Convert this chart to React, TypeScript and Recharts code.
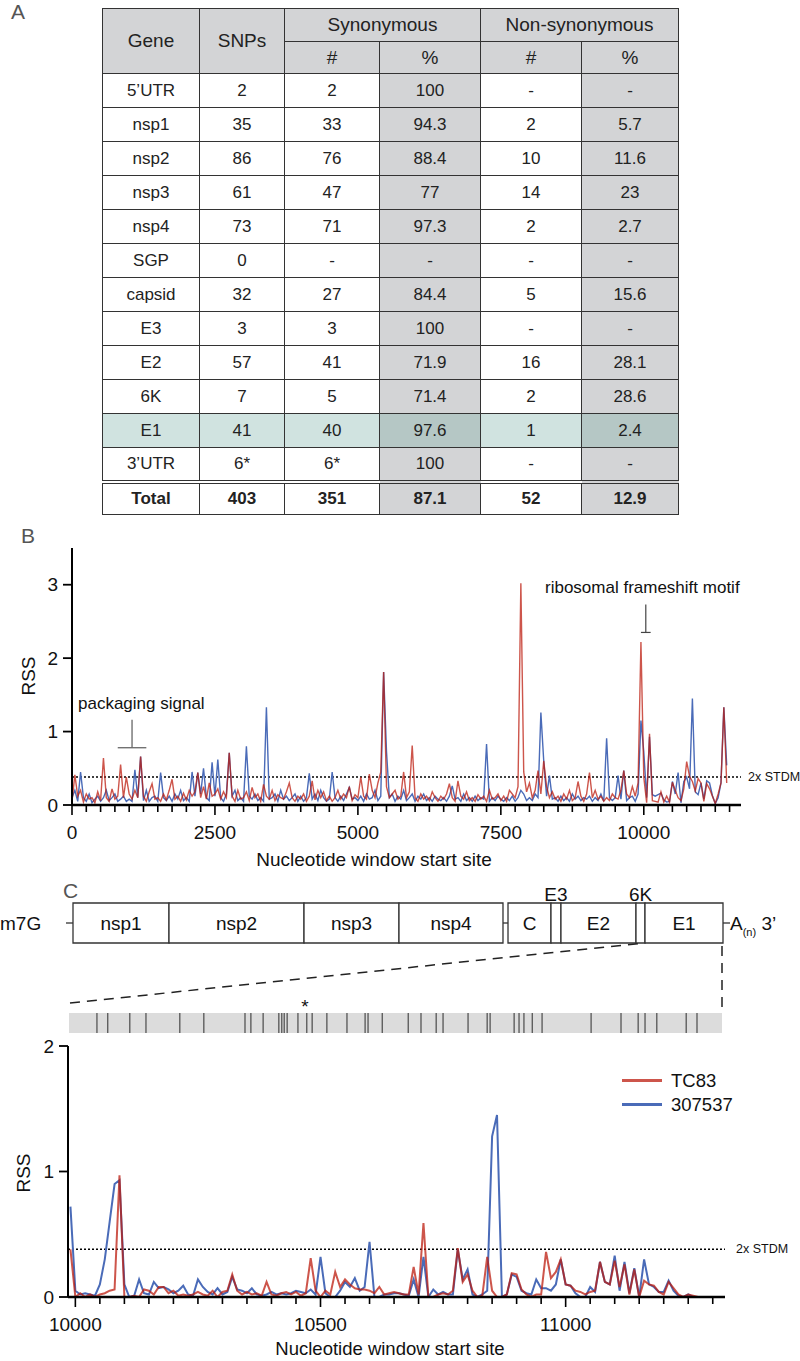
import React from 'react';
import { LineChart, Line, XAxis, YAxis, ReferenceLine, BarChart, Bar, LabelList, ScatterChart, Scatter } from 'recharts';

const FONT = '"Liberation Sans", Arial, Helvetica, sans-serif';
const RED = '#bc1c0f';
const RED_OPACITY = 0.75;
const BLUE = '#4a6bb8';
const seriesNames = ['TC83', '307537'];

// ---------- Panel A table ----------
const tableGenes = ["5’UTR", 'nsp1', 'nsp2', 'nsp3', 'nsp4', 'SGP', 'capsid', 'E3', 'E2', '6K', 'E1', "3’UTR"];
const tableSnps = ['2', '35', '86', '61', '73', '0', '32', '3', '57', '7', '41', '6*'];
const tableSynCount = ['2', '33', '76', '47', '71', '-', '27', '3', '41', '5', '40', '6*'];
const tableSynPct = ['100', '94.3', '88.4', '77', '97.3', '-', '84.4', '100', '71.9', '71.4', '97.6', '100'];
const tableNonCount = ['-', '2', '10', '14', '2', '-', '5', '-', '16', '2', '1', '-'];
const tableNonPct = ['-', '5.7', '11.6', '23', '2.7', '-', '15.6', '-', '28.1', '28.6', '2.4', '-'];
const tableTotal = ['Total', '403', '351', '87.1', '52', '12.9'];
const highlightGene = 'E1';

// ---------- Panel B (whole genome RSS) ----------
const bStep = 50;
const bTC83 = [
  0.05, 0.41, 0.12, 0.2, 0.04, 0.15, 0.08, 0.1, 0.03, 0.18,
  0.06, 0.64, 0.1, 0.05, 0.22, 0.08, 0.12, 0.55, 0.1, 0.38,
  0.15, 0.08, 0.2, 0.1, 0.66, 0.12, 0.05, 0.18, 0.29, 0.08,
  0.1, 0.05, 0.15, 0.07, 0.2, 0.35, 0.08, 0.12, 0.05, 0.16,
  0.07, 0.2, 0.12, 0.18, 0.44, 0.1, 0.25, 0.08, 0.3, 0.12,
  0.15, 0.22, 0.08, 0.18, 0.1, 0.71, 0.12, 0.05, 0.2, 0.08,
  0.1, 0.18, 0.06, 0.24, 0.1, 0.15, 0.05, 0.28, 0.12, 0.08,
  0.2, 0.06, 0.14, 0.1, 0.08, 0.18, 0.3, 0.1, 0.05, 0.12,
  0.08, 0.15, 0.05, 0.12, 0.33, 0.07, 0.2, 0.1, 0.18, 0.06,
  0.12, 0.05, 0.1, 0.2, 0.08, 0.15, 0.1, 0.25, 0.06, 0.14,
  0.1, 0.38, 0.12, 0.08, 0.42, 0.2, 0.1, 0.3, 0.45, 1.81,
  0.25, 0.1, 0.15, 0.2, 0.08, 0.12, 0.45, 0.1, 0.18, 0.81,
  0.1, 0.05, 0.15, 0.08, 0.12, 0.06, 0.18, 0.1, 0.05, 0.12,
  0.08, 0.15, 0.29, 0.1, 0.05, 0.33, 0.12, 0.08, 0.18, 0.06,
  0.1, 0.05, 0.14, 0.08, 0.12, 0.05, 0.2, 0.08, 0.1, 0.15,
  0.06, 0.12, 0.05, 0.2, 0.15, 0.1, 0.25, 3.02, 0.45, 0.18,
  0.3, 0.1, 0.2, 0.47, 0.15, 0.6, 0.25, 0.1, 0.18, 0.08,
  0.12, 0.05, 0.15, 0.08, 0.2, 0.06, 0.1, 0.32, 0.12, 0.05,
  0.15, 0.44, 0.1, 0.2, 0.08, 0.12, 0.05, 0.1, 0.06, 0.15,
  0.1, 0.08, 0.2, 0.47, 0.15, 0.1, 0.25, 0.12, 0.3, 2.22,
  0.38, 0.03, 0.97, 0.06, 0.05, 0.04, 0.18, 0.04, 0.12, 0.04,
  0.31, 0.2, 0.1, 0.06, 0.22, 0.59, 0.39, 0.32, 0.19, 0.36,
  0.3, 0.05, 0.29, 0.22, 0.12, 0.02, 0.15, 0.3, 1.33, 0.3,
];
const b307537 = [
  0.1, 0.2, 0.05, 0.45, 0.1, 0.05, 0.15, 0.03, 0.08, 0.12,
  0.05, 0.1, 0.2, 0.06, 0.1, 0.15, 0.05, 0.08, 0.12, 0.05,
  0.08, 0.05, 0.48, 0.1, 0.66, 0.06, 0.2, 0.05, 0.1, 0.12,
  0.05, 0.44, 0.1, 0.06, 0.12, 0.05, 0.15, 0.08, 0.2, 0.06,
  0.1, 0.05, 0.45, 0.12, 0.44, 0.15, 0.5, 0.1, 0.06, 0.58,
  0.12, 0.62, 0.1, 0.05, 0.15, 0.71, 0.12, 0.2, 0.06, 0.1,
  0.05, 0.8, 0.12, 0.08, 0.15, 0.06, 0.1, 0.05, 1.33, 0.08,
  0.1, 0.15, 0.05, 0.2, 0.08, 0.12, 0.06, 0.1, 0.15, 0.05,
  0.12, 0.05, 0.1, 0.43, 0.08, 0.15, 0.06, 0.2, 0.1, 0.05,
  0.08, 0.45, 0.1, 0.05, 0.12, 0.06, 0.15, 0.24, 0.08, 0.1,
  0.06, 0.12, 0.05, 0.15, 0.08, 0.1, 0.2, 0.06, 0.12, 1.81,
  0.73, 0.1, 0.15, 0.05, 0.12, 0.08, 0.2, 0.06, 0.1, 0.15,
  0.05, 0.12, 0.08, 0.15, 0.06, 0.1, 0.05, 0.12, 0.08, 0.06,
  0.1, 0.05, 0.12, 0.26, 0.08, 0.1, 0.05, 0.15, 0.06, 0.1,
  0.05, 0.12, 0.06, 0.1, 0.08, 0.83, 0.05, 0.1, 0.06, 0.12,
  0.08, 0.05, 0.1, 0.06, 0.12, 0.05, 0.1, 0.2, 0.15, 0.06,
  0.1, 0.06, 0.15, 0.1, 1.26, 0.6, 0.12, 0.4, 0.08, 0.1,
  0.05, 0.12, 0.06, 0.1, 0.05, 0.15, 0.08, 0.12, 0.06, 0.1,
  0.08, 0.12, 0.05, 0.1, 0.06, 0.15, 0.05, 0.91, 0.1, 0.06,
  0.1, 0.4, 0.08, 0.47, 0.06, 0.1, 0.12, 0.05, 0.15, 1.15,
  0.72, 0.1, 0.93, 0.14, 0.12, 0.14, 0.16, 0.07, 0.04, 0.05,
  0.32, 0.15, 0.44, 0.03, 0.32, 0.38, 0.22, 1.45, 0.18, 0.14,
  0.3, 0.08, 0.33, 0.3, 0.13, 0.02, 0.1, 0.3, 1.33, 0.54,
];
const bStdm = 0.38;
const bYTicks = [0, 1, 2, 3];
const bXTickStep = 250;
const bXTickCount = 47;
const bXLabelEvery = 2500;

// ---------- Panel C genome map ----------
const genomeSegments = ['nsp1', 'nsp2', 'nsp3', 'nsp4', 'SGP', 'C', 'E3', 'E2', '6K', 'E1'];
const genomeLengths = [1684, 2368, 1666, 1824, 88, 754, 175, 1316, 158, 1368];
const genomeLabelsAbove = ['E3', '6K'];
const genomeSpacer = 'SGP';

// SNP positions in E1 region (nt)
const snpPositions = [
  10044, 10066, 10111, 10144, 10213, 10262, 10346, 10358, 10383, 10415,
  10421, 10426, 10432, 10454, 10472, 10483, 10513, 10554, 10591, 10597,
  10626, 10679, 10705, 10736, 10750, 10801, 10840, 10846, 10895, 10905,
  10915, 10932, 10952, 11052, 11113, 11148, 11162, 11186, 11246, 11268,
];

// ---------- Panel C zoomed RSS ----------
const cStart = 9990;
const cStep = 10;
const cTC83 = [
  0.38,
  0.0, 0.03, 0.0, 0.02, 0.0, 0.02, 0.03, 0.05, 0.06, 0.97,
  0.0, 0.0, 0.01, 0.0, 0.06, 0.05, 0.02, 0.08, 0.08, 0.03,
  0.05, 0.01, 0.02, 0.01, 0.02, 0.04, 0.02, 0.01, 0.05, 0.0,
  0.04, 0.05, 0.18, 0.05, 0.02, 0.04, 0.02, 0.03, 0.01, 0.12,
  0.02, 0.01, 0.03, 0.04, 0.02, 0.04, 0.01, 0.03, 0.31, 0.05,
  0.0, 0.05, 0.02, 0.2, 0.08, 0.14, 0.1, 0.07, 0.06, 0.06,
  0.05, 0.03, 0.08, 0.02, 0.03, 0.04, 0.03, 0.02, 0.02, 0.24,
  0.02, 0.59, 0.0, 0.0, 0.02, 0.03, 0.02, 0.05, 0.39, 0.12,
  0.18, 0.05, 0.0, 0.01, 0.32, 0.05, 0.0, 0.0, 0.02, 0.19,
  0.18, 0.06, 0.02, 0.0, 0.02, 0.02, 0.36, 0.15, 0.2, 0.3,
  0.1, 0.09, 0.05, 0.04, 0.02, 0.04, 0.05, 0.28, 0.12, 0.1,
  0.29, 0.08, 0.26, 0.02, 0.22, 0.0, 0.13, 0.1, 0.09, 0.04,
  0.02, 0.12, 0.07, 0.02, 0.0, 0.02, 0.01, 0.0,
];
const c307537 = [
  0.72,
  0.05, 0.02, 0.03, 0.02, 0.01, 0.1, 0.3, 0.6, 0.9, 0.93,
  0.1, 0.0, 0.01, 0.14, 0.03, 0.02, 0.12, 0.07, 0.08, 0.06,
  0.03, 0.05, 0.09, 0.02, 0.01, 0.14, 0.08, 0.04, 0.02, 0.07,
  0.02, 0.04, 0.16, 0.06, 0.05, 0.03, 0.07, 0.02, 0.01, 0.02,
  0.04, 0.02, 0.03, 0.02, 0.03, 0.05, 0.04, 0.03, 0.06, 0.02,
  0.32, 0.03, 0.0, 0.0, 0.05, 0.12, 0.08, 0.15, 0.05, 0.08,
  0.44, 0.0, 0.0, 0.02, 0.02, 0.03, 0.03, 0.02, 0.01, 0.14,
  0.0, 0.32, 0.0, 0.06, 0.02, 0.04, 0.02, 0.02, 0.38, 0.14,
  0.22, 0.02, 0.0, 0.02, 0.05, 1.28, 1.45, 0.0, 0.02, 0.18,
  0.16, 0.05, 0.03, 0.02, 0.14, 0.07, 0.07, 0.05, 0.1, 0.3,
  0.1, 0.09, 0.03, 0.0, 0.0, 0.08, 0.04, 0.28, 0.12, 0.1,
  0.33, 0.05, 0.28, 0.03, 0.23, 0.0, 0.3, 0.1, 0.08, 0.04,
  0.04, 0.13, 0.05, 0.01, 0.0, 0.02, 0.0, 0.0,
];
const cStdm = 0.38;
const cYTicks = [0, 1, 2];
const cXTickStart = 10000;
const cXTickStep = 50;
const cXTickCount = 27;
const cXLabelEvery = 500;

// ---------- derived tables for the library ----------
const bData = bTC83.map((v, i) => ({ pos: i * bStep, tc83: v, s307537: b307537[i] }));
const cData = cTC83.map((v, i) => ({ pos: cStart + i * cStep, tc83: v, s307537: c307537[i] }));
const bTicks = Array.from({ length: bXTickCount }, (_, i) => i * bXTickStep);
const cTicks = Array.from({ length: cXTickCount }, (_, i) => cXTickStart + i * cXTickStep);
const genomeRow = [Object.assign({ row: 'genome' }, ...genomeSegments.map((s, i) => ({ [s]: genomeLengths[i] })))];
const genomeTotal = genomeLengths.reduce((a, b) => a + b, 0);
const snpData = snpPositions.map((p) => ({ pos: p, y: 0.5 }));

// ---------- helpers ----------
function Txt({ x, y, size = 19, anchor = 'start', children, style }: any) {
  const tx = anchor === 'middle' ? '-50%' : anchor === 'end' ? '-100%' : '0';
  return (
    <div
      style={{
        position: 'absolute', left: x, top: y, fontSize: size, lineHeight: 1, whiteSpace: 'nowrap',
        fontFamily: FONT, color: '#111', transform: `translate(${tx}, -50%)`, ...style,
      }}
    >
      {children}
    </div>
  );
}

function VTxt({ x, y, size = 19, children }: any) {
  return (
    <div
      style={{
        position: 'absolute', left: x, top: y, fontSize: size, lineHeight: 1, whiteSpace: 'nowrap',
        fontFamily: FONT, color: '#111', transform: 'translate(-50%, -50%) rotate(-90deg)',
      }}
    >
      {children}
    </div>
  );
}

const AxisTick = (props: any) => {
  const { x, y, payload, majorEvery, labelOffset } = props;
  const v = payload.value;
  const major = v % majorEvery === 0;
  return (
    <g>
      <line x1={x} x2={x} y1={y} y2={y + (major ? 10 : 7)} stroke="#000" strokeWidth={1.6} />
      {major && (
        <text x={x} y={y + labelOffset} textAnchor="middle" dominantBaseline="central" fill="#111" style={{ fontSize: 19, fontFamily: FONT }}>
          {v}
        </text>
      )}
    </g>
  );
};

const geneLabel = (name: string) => (p: any) => {
  const x = Number(p.x), y = Number(p.y), w = Number(p.width), h = Number(p.height);
  const above = genomeLabelsAbove.includes(name);
  return (
    <text x={x + w / 2} y={above ? y - 9 : y + h / 2} textAnchor="middle" dominantBaseline="central" fill="#111" style={{ fontSize: 19, fontFamily: FONT }}>
      {name}
    </text>
  );
};

const SnpMark = (p: any) => (
  <line x1={p.cx} x2={p.cx} y1={p.cy - 10} y2={p.cy + 10} stroke="#555" strokeWidth={1.3} />
);

const GRAY = '#d3d4d6';
const TEAL = '#d0e3e0';
const TEAL_DARK = '#b5c7c5';
const BORDER = '1.5px solid #333';

function cell(bg: string, extra: any = {}) {
  return { border: BORDER, background: bg, textAlign: 'center' as const, verticalAlign: 'middle' as const, padding: 0, ...extra };
}

function GeneTable() {
  const colW = [97, 85, 95, 101, 101, 97];
  const head = { fontSize: 19 };
  return (
    <table
      style={{
        position: 'absolute', left: 102, top: 8, width: 576, borderCollapse: 'collapse', tableLayout: 'fixed',
        fontFamily: FONT, color: '#222', fontSize: 17,
      }}
    >
      <colgroup>
        {colW.map((w, i) => <col key={i} style={{ width: w }} />)}
      </colgroup>
      <tbody>
        <tr style={{ height: 33 }}>
          <td rowSpan={2} style={cell(GRAY, head)}>Gene</td>
          <td rowSpan={2} style={cell(GRAY, head)}>SNPs</td>
          <td colSpan={2} style={cell(GRAY, head)}>Synonymous</td>
          <td colSpan={2} style={cell(GRAY, head)}>Non-synonymous</td>
        </tr>
        <tr style={{ height: 32 }}>
          <td style={cell(GRAY, head)}>#</td>
          <td style={cell(GRAY, head)}>%</td>
          <td style={cell(GRAY, head)}>#</td>
          <td style={cell(GRAY, head)}>%</td>
        </tr>
        {tableGenes.map((g, i) => {
          const hl = g === highlightGene;
          const w = hl ? TEAL : '#fff';
          const gr = hl ? TEAL_DARK : GRAY;
          return (
            <tr key={g} style={{ height: 34 }}>
              <td style={cell(w)}>{g}</td>
              <td style={cell(w)}>{tableSnps[i]}</td>
              <td style={cell(w)}>{tableSynCount[i]}</td>
              <td style={cell(gr)}>{tableSynPct[i]}</td>
              <td style={cell(w)}>{tableNonCount[i]}</td>
              <td style={cell(gr)}>{tableNonPct[i]}</td>
            </tr>
          );
        })}
        <tr style={{ height: 33 }}>
          {tableTotal.map((t, i) => (
            <td key={i} style={cell(i === 3 || i === 5 ? GRAY : '#fff', { borderTop: '4px double #333', fontWeight: 'bold' })}>{t}</td>
          ))}
        </tr>
      </tbody>
    </table>
  );
}

export default function App() {
  return (
    <div style={{ position: 'absolute', left: 0, top: 0, width: 800, height: 1361, background: '#fff', overflow: 'hidden', fontFamily: FONT }}>
      {/* Panel letters */}
      <Txt x={11} y={11} size={21} style={{ color: '#555' }}>A</Txt>
      <Txt x={21} y={535} size={21} style={{ color: '#555' }}>B</Txt>
      <Txt x={63} y={890} size={21} style={{ color: '#555' }}>C</Txt>

      <GeneTable />

      {/* Panel B */}
      <div style={{ position: 'absolute', left: 0, top: 540 }}>
        <LineChart width={800} height={330} data={bData} margin={{ top: 8, right: 59, bottom: 35, left: 0 }}>
          <XAxis
            type="number" dataKey="pos" domain={[0, 11700]} ticks={bTicks} interval={0} allowDataOverflow
            tickSize={0} tickMargin={0} tickLine={false} height={30}
            tick={<AxisTick majorEvery={bXLabelEvery} labelOffset={27} />}
            axisLine={{ stroke: '#000', strokeWidth: 2.5 }}
          />
          <YAxis
            type="number" domain={[0, 3.5]} ticks={bYTicks} width={72} allowDataOverflow
            tickSize={9} tickMargin={5} interval={0}
            axisLine={{ stroke: '#000', strokeWidth: 2 }} tickLine={{ stroke: '#000', strokeWidth: 1.8 }}
            tick={{ fontSize: 19, fill: '#111', fontFamily: FONT }}
          />
          <ReferenceLine y={bStdm} stroke="#000" strokeWidth={1.5} strokeDasharray="2 2" />
          <Line type="linear" dataKey="s307537" name={seriesNames[1]} stroke={BLUE} strokeWidth={1.4} dot={false} isAnimationActive={false} />
          <Line type="linear" dataKey="tc83" name={seriesNames[0]} stroke={RED} strokeOpacity={RED_OPACITY} strokeWidth={1.4} dot={false} isAnimationActive={false} />
          <ReferenceLine segment={[{ x: 1050, y: 1.16 }, { x: 1050, y: 0.78 }]} stroke="#666" strokeWidth={1.3} ifOverflow="visible" />
          <ReferenceLine segment={[{ x: 800, y: 0.78 }, { x: 1300, y: 0.78 }]} stroke="#666" strokeWidth={1.3} ifOverflow="visible" />
          <ReferenceLine segment={[{ x: 10035, y: 2.73 }, { x: 10035, y: 2.35 }]} stroke="#444" strokeWidth={1.2} ifOverflow="visible" />
          <ReferenceLine segment={[{ x: 9950, y: 2.35 }, { x: 10120, y: 2.35 }]} stroke="#444" strokeWidth={1.2} ifOverflow="visible" />
        </LineChart>
      </div>
      <VTxt x={28} y={676}>RSS</VTxt>
      <Txt x={78} y={703} size={17}>packaging signal</Txt>
      <Txt x={545} y={587} size={17}>ribosomal frameshift motif</Txt>
      <Txt x={748} y={777} size={12.5}>2x STDM</Txt>
      <Txt x={374} y={859} anchor="middle">Nucleotide window start site</Txt>

      {/* Panel C genome map */}
      <Txt x={0} y={923}>m7G</Txt>
      <div style={{ position: 'absolute', left: 0, top: 883 }}>
        <BarChart width={800} height={80} data={genomeRow} layout="vertical" margin={{ top: 0, right: 77, bottom: 0, left: 73 }}>
          <XAxis type="number" hide domain={[0, genomeTotal]} />
          <YAxis type="category" dataKey="row" hide />
          {genomeSegments.map((s) => (
            <Bar
              key={s} dataKey={s} stackId="g" barSize={40} isAnimationActive={false}
              fill={s === genomeSpacer ? 'transparent' : '#fff'}
              stroke={s === genomeSpacer ? 'none' : '#333'} strokeWidth={1.3}
            >
              {s !== genomeSpacer && <LabelList dataKey={s} content={geneLabel(s)} />}
            </Bar>
          ))}
        </BarChart>
      </div>
      <div style={{ position: 'absolute', left: 730, top: 923, transform: 'translateY(-50%)', fontSize: 19, lineHeight: 1, whiteSpace: 'nowrap', color: '#111' }}>
        A<span style={{ fontSize: 11, position: 'relative', top: 6 }}>(n)</span> 3’
      </div>

      {/* SNP strip */}
      <div style={{ position: 'absolute', left: 69, top: 1013, width: 653, height: 20, background: '#dcdcdc' }} />
      <div style={{ position: 'absolute', left: 0, top: 1013 }}>
        <ScatterChart width={800} height={20} margin={{ top: 0, right: 78, bottom: 0, left: 69 }}>
          <XAxis type="number" dataKey="pos" domain={[9987, 11319]} hide />
          <YAxis type="number" dataKey="y" domain={[0, 1]} hide />
          <Scatter data={snpData} shape={SnpMark} isAnimationActive={false} />
        </ScatterChart>
      </div>
      <Txt x={305} y={1006} anchor="middle" size={19}>*</Txt>

      {/* connectors and zoom guides */}
      <svg width={800} height={1361} style={{ position: 'absolute', left: 0, top: 0, pointerEvents: 'none' }}>
        <line x1={66} x2={73} y1={923} y2={923} stroke="#333" strokeWidth={1.3} />
        <line x1={503} x2={508} y1={923} y2={923} stroke="#333" strokeWidth={1.3} />
        <line x1={723} x2={730} y1={923} y2={923} stroke="#333" strokeWidth={1.3} />
        <line x1={70} y1={1003} x2={644} y2={943} stroke="#222" strokeWidth={1.5} strokeDasharray="10 7" />
        <line x1={722} y1={946} x2={722} y2={1010} stroke="#222" strokeWidth={1.5} strokeDasharray="10 7" />
      </svg>

      {/* Panel C zoomed chart */}
      <div style={{ position: 'absolute', left: 0, top: 1036 }}>
        <LineChart width={800} height={310} data={cData} margin={{ top: 10, right: 75, bottom: 19, left: 0 }}>
          <XAxis
            type="number" dataKey="pos" domain={[9985, 11325]} ticks={cTicks} interval={0} allowDataOverflow
            tickSize={0} tickMargin={0} tickLine={false} height={30}
            tick={<AxisTick majorEvery={cXLabelEvery} labelOffset={27} />}
            axisLine={{ stroke: '#000', strokeWidth: 2.5 }}
          />
          <YAxis
            type="number" domain={[0, 2]} ticks={cYTicks} width={68} allowDataOverflow
            tickSize={9} tickMargin={5} interval={0}
            axisLine={{ stroke: '#000', strokeWidth: 2 }} tickLine={{ stroke: '#000', strokeWidth: 1.8 }}
            tick={{ fontSize: 19, fill: '#111', fontFamily: FONT }}
          />
          <ReferenceLine y={cStdm} stroke="#000" strokeWidth={1.5} strokeDasharray="2 2" />
          <Line type="linear" dataKey="s307537" name={seriesNames[1]} stroke={BLUE} strokeWidth={2} dot={false} isAnimationActive={false} />
          <Line type="linear" dataKey="tc83" name={seriesNames[0]} stroke={RED} strokeOpacity={RED_OPACITY} strokeWidth={2} dot={false} isAnimationActive={false} />
        </LineChart>
      </div>
      <VTxt x={23} y={1173}>RSS</VTxt>
      <Txt x={736} y={1249} size={12.5}>2x STDM</Txt>
      <Txt x={390} y={1349} anchor="middle" size={18.5}>Nucleotide window start site</Txt>

      {/* Legend */}
      <div style={{ position: 'absolute', left: 622, top: 1079, width: 40, height: 3, background: RED, opacity: RED_OPACITY }} />
      <Txt x={671} y={1081} size={18.5}>{seriesNames[0]}</Txt>
      <div style={{ position: 'absolute', left: 622, top: 1103, width: 40, height: 3, background: BLUE }} />
      <Txt x={671} y={1105} size={18.5}>{seriesNames[1]}</Txt>
    </div>
  );
}
